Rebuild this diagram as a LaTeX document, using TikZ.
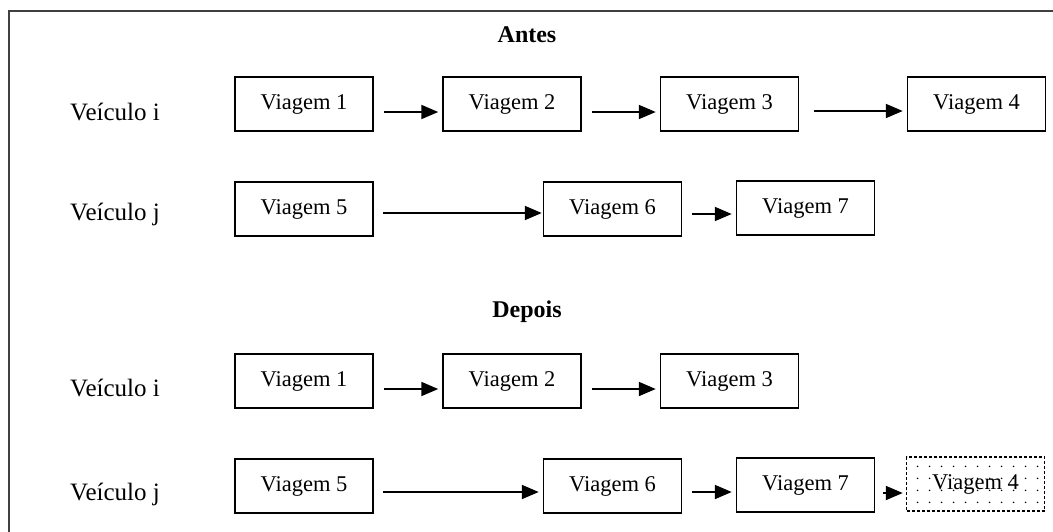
\documentclass[tikz,border=0pt]{standalone}
\usepackage{fontspec}
\setmainfont{Liberation Serif}
\usetikzlibrary{arrows.meta, patterns.meta}
% pontos esparsos da viagem transferida
\tikzdeclarepattern{
    name=pontos,
    type=uncolored,
    bounding box={(0pt,0pt) and (12pt,12pt)},
    tile size={(12pt,12pt)},
    code={\fill (6pt,6pt) circle (0.9pt);}
}
\tikzset{
    % caixas das viagens
    viagem/.style={
        rectangle,
        draw=black,
        line width=1.5pt,
        minimum width=138pt,
        minimum height=54pt,
        inner sep=0pt,
        font=\fontsize{22.5}{27}\selectfont
    },
    viagem movida/.style={
        viagem,
        dash pattern=on 3pt off 2pt,
        pattern=pontos
    },
    rotulo/.style={
        anchor=base west,
        inner sep=0pt,
        font=\fontsize{25}{29}\selectfont
    },
    titulo/.style={
        inner sep=0pt,
        font=\fontsize{24}{28}\selectfont\bfseries
    },
    arrow style/.style={
        -{Triangle[length=17pt,width=14pt]},
        line width=2pt,
        black
    }
}

\begin{document}
\begin{tikzpicture}[x=1pt, y=-1pt]
        \useasboundingbox (0,0) rectangle (1053,531);
        % moldura
        \draw[line width=1.6pt, black!75] (9,560) -- (9,11) -- (1080,11);

        % Antes
        \node[titulo] (antes) at (527,35) {Antes};
        \node[rotulo] (vi1) at (70,120) {Veículo i};
        \node[viagem] (a1) at (304,104) {Viagem 1};
        \node[viagem] (a2) at (512,104) {Viagem 2};
        \node[viagem] (a3) at (729.5,104) {Viagem 3};
        \node[viagem] (a4) at (976.5,104) {Viagem 4};
        \draw[arrow style] ([xshift=10pt,yshift=-8pt]a1.east) -- ([xshift=-4pt,yshift=-8pt]a2.west);
        \draw[arrow style] ([xshift=10pt,yshift=-8pt]a2.east) -- ([xshift=-4pt,yshift=-8pt]a3.west);
        \draw[arrow style] ([xshift=15pt,yshift=-7pt]a3.east) -- ([xshift=-4pt,yshift=-7pt]a4.west);

        \node[rotulo] (vj1) at (70,220) {Veículo j};
        \node[viagem] (a5) at (304,209) {Viagem 5};
        \node[viagem] (a6) at (612.5,209) {Viagem 6};
        \node[viagem] (a7) at (805.5,208) {Viagem 7};
        \draw[arrow style] ([xshift=9pt,yshift=-4pt]a5.east) -- ([xshift=-1pt,yshift=-4pt]a6.west);
        \draw[arrow style] ([xshift=10pt,yshift=-5pt]a6.east) -- ([xshift=-4pt,yshift=-6pt]a7.west);

        % Depois
        \node[titulo] (depois) at (527,312) {Depois};
        \node[rotulo] (vi2) at (70,396) {Veículo i};
        \node[viagem] (d1) at (304,381) {Viagem 1};
        \node[viagem] (d2) at (512,381) {Viagem 2};
        \node[viagem] (d3) at (729.5,381) {Viagem 3};
        \draw[arrow style] ([xshift=10pt,yshift=-8pt]d1.east) -- ([xshift=-4pt,yshift=-8pt]d2.west);
        \draw[arrow style] ([xshift=10pt,yshift=-8pt]d2.east) -- ([xshift=-4pt,yshift=-8pt]d3.west);

        \node[rotulo] (vj2) at (70,500) {Veículo j};
        \node[viagem] (d5) at (304,486) {Viagem 5};
        \node[viagem] (d6) at (612.5,486) {Viagem 6};
        \node[viagem] (d7) at (805.5,485) {Viagem 7};
        \node[viagem movida] (d4) at (975.5,484) {Viagem 4};
        \draw[arrow style] ([xshift=9pt,yshift=-6pt]d5.east) -- ([xshift=-4pt,yshift=-6pt]d6.west);
        \draw[arrow style] ([xshift=10pt,yshift=-6pt]d6.east) -- ([xshift=-4pt,yshift=-7pt]d7.west);
        \draw[arrow style] ([xshift=8pt,yshift=-8pt]d7.east) -- ([xshift=-3pt,yshift=-9pt]d4.west);
    \end{tikzpicture}
\end{document}
